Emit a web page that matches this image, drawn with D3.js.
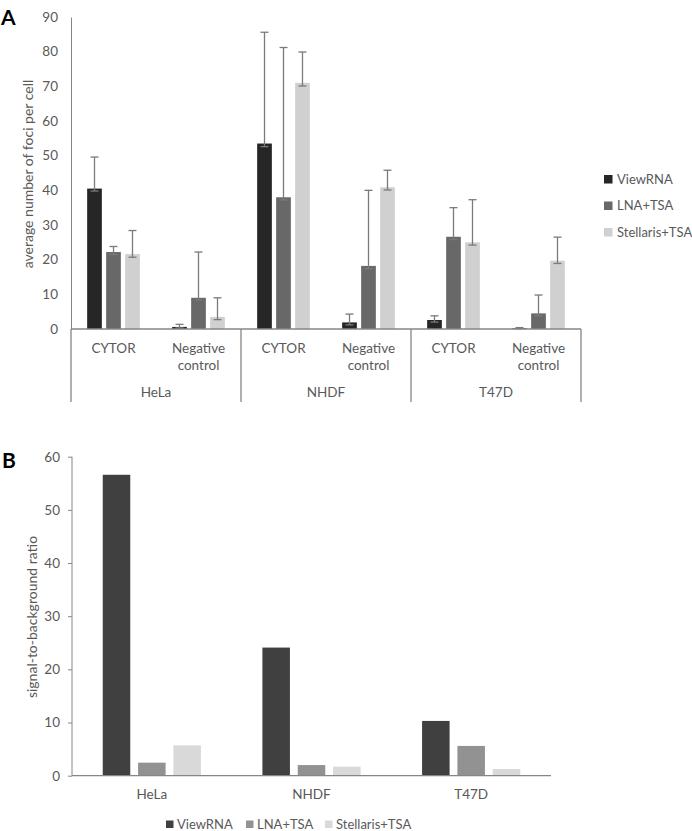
<!DOCTYPE html>
<html>
<head>
<meta charset="utf-8">
<script src="https://cdn.jsdelivr.net/npm/d3@7"></script>
<style>
  body { margin: 0; background: #fff; }
  svg { display: block; }
  text { font-family: Lato, "Open Sans", sans-serif; fill: #595959; }
</style>
</head>
<body>
<svg id="chart" width="692" height="831"></svg>
<script>
// categories
const cellLines = ["HeLa", "NHDF", "T47D"];
const probes = ["CYTOR", "Negative control"];
const series = ["ViewRNA", "LNA+TSA", "Stellaris+TSA"];

// panel A: average foci per cell, order HeLa CYTOR, HeLa neg, NHDF CYTOR, NHDF neg, T47D CYTOR, T47D neg
const fociViewRNA    = [40.5, 0.6, 53.5, 1.9, 2.6, 0.2];
const fociLNA        = [22.2, 9.0, 38.0, 18.2, 26.6, 4.5];
const fociStellaris  = [21.6, 3.5, 71.0, 40.9, 25.0, 19.7];
// error bar ends (upper / lower)
const hiViewRNA   = [49.6, 1.35, 85.6, 4.3, 3.8, 0.4];
const hiLNA       = [23.8, 22.2, 81.2, 40.0, 35.0, 9.8];
const hiStellaris = [28.4, 9.0, 79.9, 45.8, 37.3, 26.5];
const loViewRNA   = [39.8, 0.3, 52.6, 1.2, 2.0, 0.1];
const loLNA       = [21.5, 8.4, 37.2, 17.4, 25.8, 3.8];
const loStellaris = [20.7, 2.7, 70.1, 40.1, 24.2, 18.9];
const ticksA = [0, 10, 20, 30, 40, 50, 60, 70, 80, 90];

// panel B: signal-to-background ratio per cell line
const ratioViewRNA   = [56.6, 24.1, 10.3];
const ratioLNA       = [2.45, 2.0, 5.6];
const ratioStellaris = [5.7, 1.7, 1.26];
const ticksB = [0, 10, 20, 30, 40, 50, 60];

const colorsA = ["#262626", "#686868", "#d0d0d0"];
const colorsB = ["#404040", "#929292", "#d9d9d9"];
const lineCol = "#868686";

const svg = d3.select("#chart");

// ---------- panel A ----------
const fociVals = [fociViewRNA, fociLNA, fociStellaris];
const hiVals = [hiViewRNA, hiLNA, hiStellaris];
const loVals = [loViewRNA, loLNA, loStellaris];

const rowsA = [];
cellLines.forEach((c, ci) => probes.forEach((p, pi) => {
  const k = ci * probes.length + pi;
  series.forEach((s, si) => rowsA.push({
    cell: c, probe: p, series: s, si: si,
    v: fociVals[si][k], hi: hiVals[si][k], lo: loVals[si][k]
  }));
}));

const yA = d3.scaleLinear().domain([0, 90]).range([329, 17]);
const xCell = d3.scaleBand().domain(cellLines).range([71, 581]);
const xProbe = d3.scaleBand().domain(probes).range([0, xCell.bandwidth()]);
const xSerA = d3.scaleBand().domain(series).range([0, xProbe.bandwidth()])
  .paddingInner(0.226).paddingOuter(0.85);

const gA = svg.append("g");

gA.append("g")
  .attr("transform", "translate(71,0)")
  .call(d3.axisLeft(yA).tickValues(ticksA).tickSize(0).tickPadding(13))
  .call(g => g.select(".domain").attr("stroke", lineCol))
  .call(g => g.selectAll("text").attr("font-size", 13.5).attr("fill", "#595959")
    .attr("font-family", "Lato, sans-serif"));

gA.selectAll("rect.bar").data(rowsA).join("rect")
  .attr("class", "bar")
  .attr("x", d => xCell(d.cell) + xProbe(d.probe) + xSerA(d.series))
  .attr("y", d => yA(d.v))
  .attr("width", xSerA.bandwidth())
  .attr("height", d => yA(0) - yA(d.v))
  .attr("fill", d => colorsA[d.si]);

const errG = gA.selectAll("g.err").data(rowsA).join("g")
  .attr("class", "err")
  .attr("transform", d => "translate(" + (xCell(d.cell) + xProbe(d.probe) + xSerA(d.series) + xSerA.bandwidth() / 2) + ",0)")
  .attr("stroke", "#7a7a7a").attr("stroke-width", 1.3);
errG.append("line").attr("y1", d => yA(d.lo)).attr("y2", d => yA(d.hi));
errG.append("line").attr("x1", -4).attr("x2", 4).attr("y1", d => yA(d.hi)).attr("y2", d => yA(d.hi));
errG.append("line").attr("x1", -4).attr("x2", 4).attr("y1", d => yA(d.lo)).attr("y2", d => yA(d.lo));

// baseline + category dividers
gA.append("line").attr("x1", 71).attr("x2", 581).attr("y1", yA(0)).attr("y2", yA(0))
  .attr("stroke", lineCol).attr("stroke-width", 1.3);
const divs = cellLines.map(c => xCell(c)).concat([xCell.range()[1]]);
gA.selectAll("line.div").data(divs).join("line")
  .attr("class", "div")
  .attr("x1", d => d).attr("x2", d => d)
  .attr("y1", yA(0)).attr("y2", 402)
  .attr("stroke", lineCol).attr("stroke-width", 1.3);

// probe labels
cellLines.forEach(c => probes.forEach(p => {
  const cx = xCell(c) + xProbe(p) + xProbe.bandwidth() / 2;
  const words = p === "Negative control" ? ["Negative", "control"] : [p];
  words.forEach((w, i) => gA.append("text")
    .attr("x", cx).attr("y", 353 + i * 17)
    .attr("text-anchor", "middle").attr("font-size", 13.5).text(w));
}));
gA.selectAll("text.cell").data(cellLines).join("text")
  .attr("class", "cell")
  .attr("x", d => xCell(d) + xCell.bandwidth() / 2).attr("y", 397)
  .attr("text-anchor", "middle").attr("font-size", 13.5).text(d => d);

// y title
gA.append("text")
  .attr("transform", "translate(33,174) rotate(-90)")
  .attr("text-anchor", "middle").attr("font-size", 14)
  .text("average number of foci per cell");

// legend A
const legA = gA.selectAll("g.leg").data(series).join("g")
  .attr("class", "leg")
  .attr("transform", (d, i) => "translate(604," + (179 + i * 26.5) + ")");
legA.append("rect").attr("x", 0).attr("y", -4).attr("width", 8.5).attr("height", 8.5)
  .attr("fill", (d, i) => colorsA[i]);
legA.append("text").attr("x", 13).attr("y", 4.5).attr("font-size", 13).text(d => d);

svg.append("text").attr("x", 1).attr("y", 25).attr("font-size", 21)
  .attr("font-weight", "bold").attr("font-family", "Arial, 'Liberation Sans', sans-serif")
  .style("fill", "#000").text("A");

// ---------- panel B ----------
const ratioVals = [ratioViewRNA, ratioLNA, ratioStellaris];
const rowsB = [];
cellLines.forEach((c, ci) => series.forEach((s, si) =>
  rowsB.push({ cell: c, series: s, si: si, v: ratioVals[si][ci] })));

const yB = d3.scaleLinear().domain([0, 60]).range([775.7, 456.7]);
const xCellB = d3.scaleBand().domain(cellLines).range([72, 551]);
const xSerB = d3.scaleBand().domain(series).range([0, xCellB.bandwidth()])
  .paddingInner(0.221).paddingOuter(0.87);

const gB = svg.append("g");
gB.append("g")
  .attr("transform", "translate(72,0)")
  .call(d3.axisLeft(yB).tickValues(ticksB).tickSize(4).tickPadding(8))
  .call(g => g.select(".domain").attr("stroke", lineCol).attr("d", "M0," + yB(60) + "V" + yB(0)))
  .call(g => g.selectAll(".tick line").attr("stroke", lineCol))
  .call(g => g.selectAll("text").attr("font-size", 13.5).attr("fill", "#595959")
    .attr("font-family", "Lato, sans-serif"));

gB.selectAll("rect.bar").data(rowsB).join("rect")
  .attr("class", "bar")
  .attr("x", d => xCellB(d.cell) + xSerB(d.series))
  .attr("y", d => yB(d.v))
  .attr("width", xSerB.bandwidth())
  .attr("height", d => yB(0) - yB(d.v))
  .attr("fill", d => colorsB[d.si]);

gB.append("line").attr("x1", 72).attr("x2", 551).attr("y1", yB(0)).attr("y2", yB(0))
  .attr("stroke", lineCol).attr("stroke-width", 1.3);

gB.selectAll("text.cell").data(cellLines).join("text")
  .attr("class", "cell")
  .attr("x", d => xCellB(d) + xCellB.bandwidth() / 2).attr("y", 799)
  .attr("text-anchor", "middle").attr("font-size", 13.5).text(d => d);

gB.append("text")
  .attr("transform", "translate(37,617) rotate(-90)")
  .attr("text-anchor", "middle").attr("font-size", 14)
  .text("signal-to-background ratio");

// legend B
const legX = [166, 246, 325];
const legB = gB.selectAll("g.leg").data(series).join("g")
  .attr("class", "leg")
  .attr("transform", (d, i) => "translate(" + legX[i] + ",824)");
legB.append("rect").attr("x", 0).attr("y", -3.5).attr("width", 7.5).attr("height", 7.5)
  .attr("fill", (d, i) => colorsB[i]);
legB.append("text").attr("x", 11).attr("y", 4.5).attr("font-size", 13).text(d => d);

svg.append("text").attr("x", 2).attr("y", 468).attr("font-size", 21)
  .attr("font-weight", "bold").attr("font-family", "Arial, 'Liberation Sans', sans-serif")
  .style("fill", "#000").text("B");
</script>
</body>
</html>
